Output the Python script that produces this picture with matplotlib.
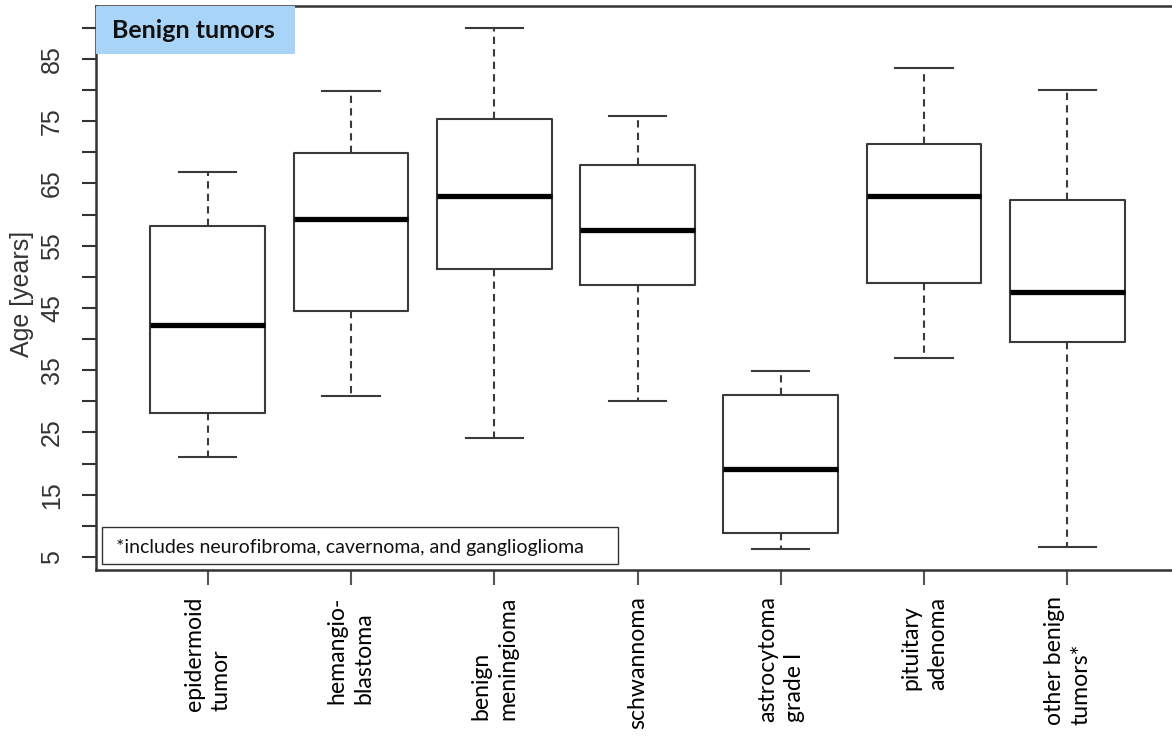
import matplotlib
matplotlib.use("Agg")
import matplotlib.pyplot as plt
from matplotlib.patches import Rectangle

categories = ["epidermoid\ntumor", "hemangio-\nblastoma", "benign\nmeningioma", "schwannoma",
              "astrocytoma\ngrade I", "pituitary\nadenoma", "other benign\ntumors*"]
whisker_low = [21.0, 30.9, 24.1, 30.0, 6.3, 37.0, 6.6]
q1 = [28.1, 44.5, 51.3, 48.7, 8.9, 49.0, 39.6]
median = [42.3, 59.3, 63.0, 57.5, 19.1, 63.0, 47.6]
q3 = [58.2, 69.9, 75.4, 68.0, 31.0, 71.3, 62.3]
whisker_high = [66.8, 79.9, 90.0, 75.8, 34.9, 83.6, 80.0]
major_yticks = [5, 15, 25, 35, 45, 55, 65, 75, 85]
minor_yticks = [10, 20, 30, 40, 50, 60, 70, 80, 90]

DPI = 100
fig = plt.figure(figsize=(11.72, 7.40), dpi=DPI)
W, H = 1172, 740
ax = fig.add_axes([96 / W, 170 / H, (1179 - 96) / W, (734 - 170) / H])

# fit label font so that the longest label line stays inside the figure
probe = fig.text(0, 0, "schwannoma", fontsize=10, family="Lato")
fig.canvas.draw()
probe_w = probe.get_window_extent().width
probe.remove()
label_fs = 10 * 132 / probe_w
pitch_px = 31
label_ls = pitch_px / (label_fs * DPI / 72)

stats = []
for i in range(len(categories)):
    stats.append(dict(whislo=whisker_low[i], q1=q1[i], med=median[i], q3=q3[i],
                      whishi=whisker_high[i], fliers=[]))

edge = "#3a3a3a"
ax.bxp(stats, positions=range(1, len(categories) + 1), widths=0.8, showfliers=False,
       patch_artist=False, manage_ticks=False,
       boxprops=dict(color=edge, linewidth=1.5),
       whiskerprops=dict(color=edge, linewidth=1.5, linestyle=(0, (3.5, 2.5))),
       capprops=dict(color=edge, linewidth=1.5),
       capwidths=0.4,
       medianprops=dict(color="black", linewidth=3.8, solid_capstyle="butt"))

ax.set_xlim(0.222, 7.778)
ax.set_ylim(2.91, 93.51)

for s in ["left", "bottom", "top", "right"]:
    ax.spines[s].set_color("#333333")
    ax.spines[s].set_linewidth(1.8)

ax.set_xticks(range(1, len(categories) + 1))
ax.set_xticklabels(categories, rotation=90, va="top", ha="center", multialignment="left",
                   fontsize=label_fs, family="Lato", linespacing=label_ls)
ax.tick_params(axis="x", length=11, width=1.5, color="#555555", pad=8)

ax.set_yticks(major_yticks)
ax.set_yticklabels([str(v) for v in major_yticks], rotation=90, va="center",
                   fontsize=18, family="Liberation Sans", color="#333333")
ax.set_yticks(minor_yticks, minor=True)
ax.tick_params(axis="y", which="both", length=10, width=1.5, color="#333333", pad=13)

fig.text(22 / W, 1 - 294 / H, "Age [years]", rotation=90, ha="center", va="center",
         fontsize=18, family="Liberation Sans", color="#333333")

# Title box
fig.patches.append(Rectangle((96 / W, 1 - 54 / H), (295 - 96) / W, (54 - 6) / H,
                             transform=fig.transFigure, facecolor="#A8D4F8",
                             edgecolor="none", zorder=5))
fig.text(112 / W, 1 - 31 / H, "Benign tumors", ha="left", va="center", fontsize=18,
         fontweight="bold", family="Lato", color="#111111", zorder=6)

# Footnote box
fig.patches.append(Rectangle((102 / W, 1 - 564 / H), (618 - 102) / W, (564 - 527) / H,
                             transform=fig.transFigure, facecolor="white",
                             edgecolor="#333333", linewidth=1.0, zorder=5))
fig.text(116 / W, 1 - 547 / H, "*includes neurofibroma, cavernoma, and ganglioglioma",
         ha="left", va="center", fontsize=14, family="Lato", color="#111111", zorder=6)

fig.savefig("out.png", dpi=DPI, facecolor="white")
